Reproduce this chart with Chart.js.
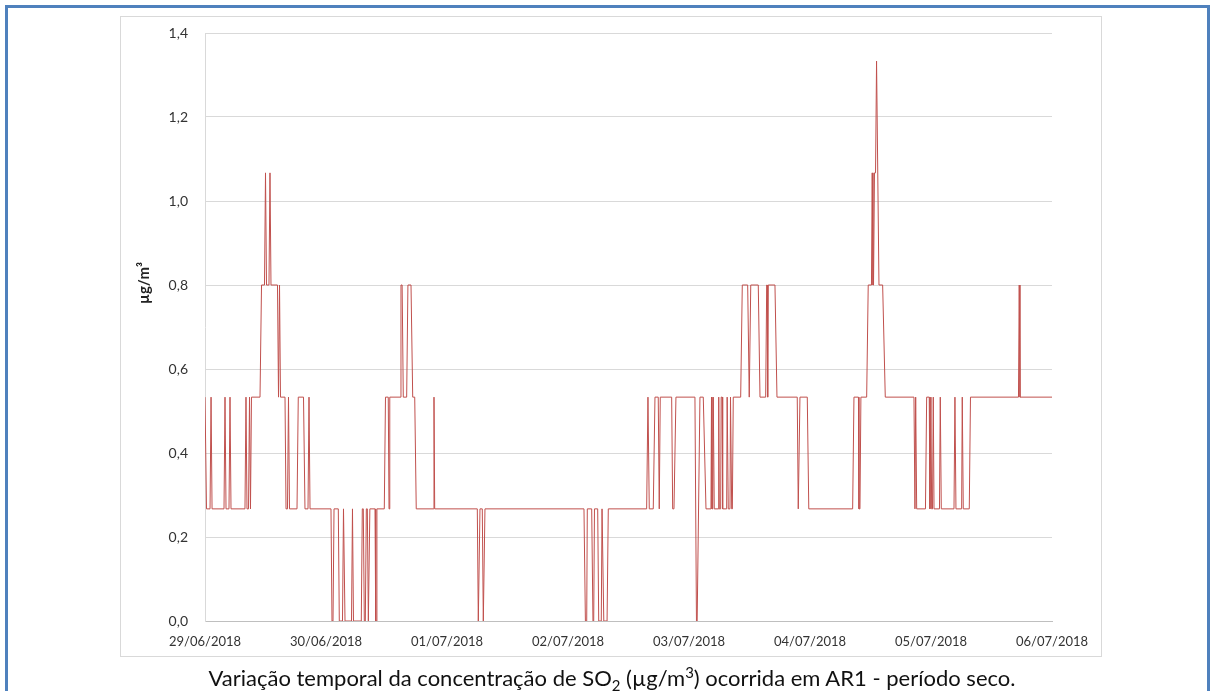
<!DOCTYPE html>
<html>
<head>
<meta charset="utf-8">
<script src="https://cdn.jsdelivr.net/npm/chart.js@4.4.1/dist/chart.umd.min.js"></script>
<style>
  html, body { margin: 0; padding: 0; background: #fff; }
  body { width: 1213px; height: 691px; overflow: hidden; position: relative; font-family: Lato, "Noto Sans", sans-serif; }
  .frame { position: absolute; left: 5px; top: 5px; width: 1199px; height: 720px; border: 3px solid #4f81bd; }
  .box { position: absolute; left: 120px; top: 16px; width: 982px; height: 641px; border: 1px solid #d9d9d9; box-sizing: border-box; }
  #chart { position: absolute; left: 0; top: 0; }
  .caption { position: absolute; left: 0; top: 664px; width: 1224px; text-align: center; font-size: 22px; line-height: 28px; color: #111; }
  .caption sub, .caption sup { font-size: 68%; line-height: 0; }
</style>
</head>
<body>
<div class="frame"></div>
<div class="box"></div>
<canvas id="chart" width="1213" height="691"></canvas>
<div class="caption">Variação temporal da concentração de SO<sub>2</sub> (µg/m<sup>3</sup>) ocorrida em AR1 - período seco.</div>
<script>
// x labels, one per day (x axis is in hours from 29/06/2018 00:00)
const dateLabels = ['29/06/2018', '30/06/2018', '01/07/2018', '02/07/2018', '03/07/2018', '04/07/2018', '05/07/2018', '06/07/2018'];
const yTickLabels = ['0,0', '0,2', '0,4', '0,6', '0,8', '1,0', '1,2', '1,4'];
const yTitle = 'µg/m³';

// [hour, SO2 µg/m3] - vertices, one array per day
const day1 = [
    [0, 0.533], [0.3, 0.267], [1.0, 0.267], [1.2, 0.533], [1.4, 0.267],
    [3.77, 0.267], [3.97, 0.533], [4.17, 0.267],
    [4.76, 0.267], [4.96, 0.533], [5.16, 0.267],
    [7.93, 0.267], [8.13, 0.533], [8.33, 0.267],
    [8.63, 0.267], [8.83, 0.533], [9.02, 0.267], [9.22, 0.533],
    [10.91, 0.533], [11.21, 0.8],
    [11.8, 0.8], [12.0, 1.067], [12.2, 0.8],
    [12.69, 0.8], [12.89, 1.067], [13.09, 0.8],
    [14.38, 0.8], [14.58, 0.533], [14.78, 0.8], [14.97, 0.533],
    [15.87, 0.533], [16.07, 0.267], [16.36, 0.267], [16.56, 0.533], [16.76, 0.267],
    [18.25, 0.267], [18.5, 0.533], [19.54, 0.533], [19.83, 0.267],
    [20.43, 0.267], [20.63, 0.533], [20.83, 0.267]
];
const day2 = [
    [24.99, 0.267], [25.19, 0], [25.39, 0], [25.59, 0.267],
    [26.44, 0.267], [26.64, 0], [27.27, 0], [27.47, 0.267], [27.57, 0.267], [27.77, 0],
    [29.06, 0], [29.25, 0.267], [29.45, 0],
    [31.0, 0], [31.2, 0.267], [31.4, 0.267], [31.6, 0],
    [31.8, 0], [32.0, 0.267], [32.2, 0.267], [32.4, 0], [32.5, 0], [32.7, 0.267],
    [33.72, 0.267], [33.86, 0], [33.96, 0], [34.1, 0.267],
    [35.56, 0.267], [35.8, 0.533], [36.35, 0.533], [36.5, 0.267], [36.65, 0.533],
    [38.68, 0.533], [38.87, 0.8], [39.1, 0.8], [39.33, 0.533],
    [40.0, 0.533], [40.25, 0.8], [40.86, 0.8], [41.2, 0.533], [41.6, 0.533], [41.9, 0.267],
    [45.28, 0.267], [45.42, 0.533], [45.56, 0.267]
];
const day3 = [
    [54.01, 0.267], [54.21, 0], [54.34, 0], [54.54, 0.267],
    [55.0, 0.267], [55.2, 0], [55.33, 0], [55.53, 0.267]
];
const day4 = [
    [75.17, 0.267], [75.45, 0], [75.71, 0], [75.83, 0.267],
    [76.7, 0.267], [76.95, 0], [77.1, 0], [77.25, 0.267],
    [77.89, 0.267], [78.09, 0], [78.6, 0], [78.75, 0.267], [78.94, 0.267], [79.1, 0],
    [79.75, 0], [79.99, 0.267],
    [87.6, 0.267], [87.86, 0.533], [88.12, 0.267],
    [88.91, 0.267], [89.25, 0.533], [89.9, 0.533], [90.1, 0.267], [90.3, 0.533],
    [92.56, 0.533], [92.76, 0.267], [93.02, 0.267], [93.41, 0.533]
];
const day5 = [
    [97.18, 0.533], [97.48, 0], [97.62, 0], [98.17, 0.533],
    [98.83, 0.533], [99.37, 0.267],
    [100.36, 0.267], [100.46, 0.533], [100.56, 0.267], [100.71, 0.267], [100.81, 0.533], [101.01, 0.267],
    [101.8, 0.267], [101.9, 0.533], [102.0, 0.267],
    [102.28, 0.267], [102.38, 0.533], [102.58, 0.533], [102.68, 0.267],
    [103.47, 0.267], [103.57, 0.533], [103.79, 0.267],
    [104.13, 0.267], [104.23, 0.533], [104.47, 0.267], [104.6, 0.267], [104.78, 0.533],
    [106.25, 0.533], [106.57, 0.8], [107.64, 0.8], [107.95, 0.533], [108.25, 0.8],
    [109.74, 0.8], [110.08, 0.533],
    [111.21, 0.533], [111.41, 0.8], [111.51, 0.8], [111.61, 0.533], [111.71, 0.8],
    [113.05, 0.8], [113.45, 0.533],
    [117.47, 0.533], [117.67, 0.267], [118.01, 0.533],
    [119.46, 0.533], [119.76, 0.267]
];
const day6 = [
    [128.46, 0.267], [128.72, 0.533], [129.61, 0.533], [129.71, 0.267], [129.91, 0.267], [130.1, 0.533],
    [131.24, 0.533], [131.55, 0.8],
    [132.19, 0.8], [132.34, 1.067], [132.49, 0.8], [132.6, 0.8], [132.79, 1.067], [133.0, 1.067], [133.2, 1.333], [133.68, 0.8],
    [134.41, 0.8], [134.93, 0.533],
    [140.62, 0.533], [140.82, 0.267], [140.96, 0.533], [141.16, 0.267],
    [142.9, 0.267], [143.14, 0.533], [143.65, 0.533], [143.79, 0.267], [143.99, 0.533]
];
const day7 = [
    [144.13, 0.267], [144.3, 0.267], [144.45, 0.533], [144.6, 0.267],
    [145.68, 0.267], [145.84, 0.533], [146.04, 0.267],
    [148.56, 0.267], [148.75, 0.533], [148.95, 0.267],
    [150.08, 0.267], [150.2, 0.533], [150.4, 0.267],
    [151.59, 0.267], [151.83, 0.533],
    [161.35, 0.533], [161.5, 0.8], [161.65, 0.533],
    [168, 0.533]
];

const series = [].concat(day1, day2, day3, day4, day5, day6, day7);

Chart.defaults.font.family = 'Lato, "Noto Sans", sans-serif';
Chart.defaults.color = '#333';

// y title sits a bit above the middle in the original, so draw it by hand
const yTitlePlugin = {
    id: 'yTitle',
    afterDraw(chart) {
        const ctx = chart.ctx;
        ctx.save();
        ctx.translate(144, 283);
        ctx.rotate(-Math.PI / 2);
        ctx.font = 'bold 15px Lato, "Noto Sans", sans-serif';
        ctx.fillStyle = '#222';
        ctx.textAlign = 'center';
        ctx.textBaseline = 'middle';
        ctx.fillText(yTitle, 0, 0);
        ctx.restore();
    }
};

new Chart(document.getElementById('chart'), {
    type: 'line',
    data: {
        datasets: [{
            data: series.map(p => ({ x: p[0], y: p[1] })),
            borderColor: '#c0504d',
            borderWidth: 1,
            pointRadius: 0,
            tension: 0,
            fill: false
        }]
    },
    options: {
        responsive: false,
        animation: false,
        layout: { padding: { left: 120, right: 161, top: 33, bottom: 30 } },
        plugins: { legend: { display: false }, tooltip: { enabled: false } },
        scales: {
            x: {
                type: 'linear',
                min: 0,
                max: 168,
                afterFit: scale => { scale.height = 40; },
                ticks: {
                    stepSize: 24,
                    autoSkip: false,
                    maxRotation: 0,
                    padding: 13,
                    font: { size: 13 },
                    callback: (v) => dateLabels[Math.round(v / 24)]
                },
                grid: { drawOnChartArea: false, drawTicks: false },
                border: { display: true, color: '#bfbfbf', width: 1 }
            },
            y: {
                min: 0,
                max: 1.4,
                afterFit: scale => { scale.width = 85; },
                ticks: {
                    stepSize: 0.2,
                    padding: 17,
                    font: { size: 14 },
                    callback: (v, i) => yTickLabels[i]
                },
                grid: { color: '#d9d9d9', drawTicks: false },
                border: { display: true, color: '#d9d9d9', width: 1 }
            }
        }
    },
    plugins: [yTitlePlugin]
});
</script>
</body>
</html>
